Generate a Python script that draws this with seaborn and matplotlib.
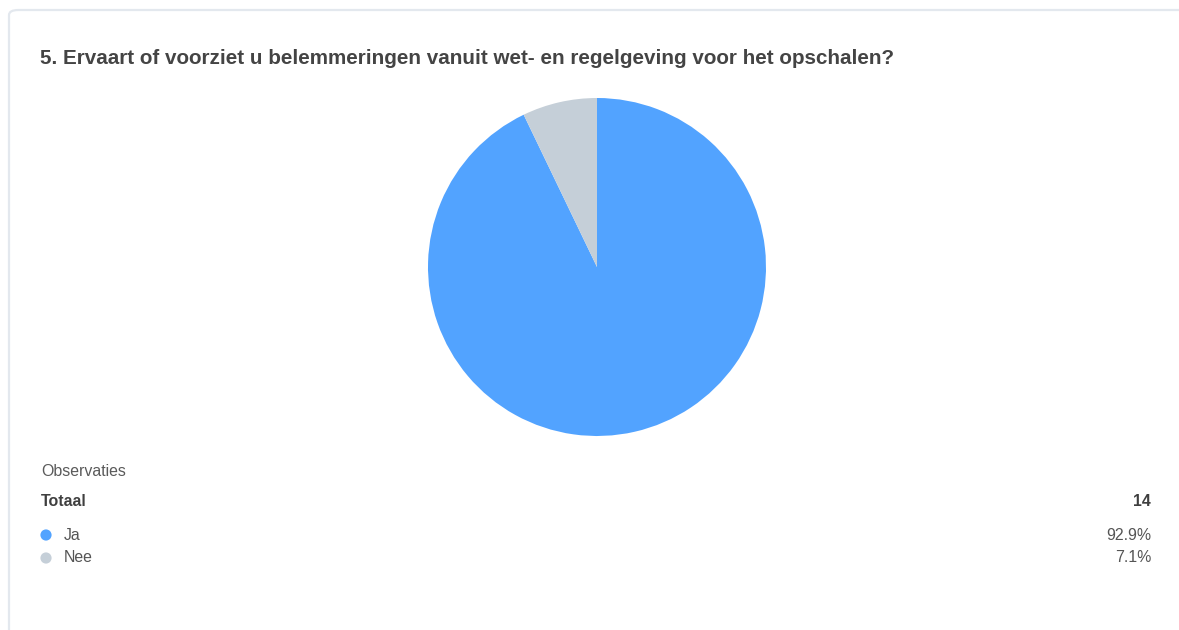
import matplotlib
matplotlib.use("Agg")
import matplotlib.pyplot as plt
import seaborn as sns
from matplotlib.patches import FancyBboxPatch

sns.set_theme(style="white")
plt.rcParams['font.family'] = ['Liberation Sans', 'DejaVu Sans']

title = "5. Ervaart of voorziet u belemmeringen vanuit wet- en regelgeving voor het opschalen?"
categories = ["Ja", "Nee"]
counts = [13, 1]
percent_labels = ["92.9%", "7.1%"]
total = 14
colors = ["#52A3FF", "#C5CFD8"]

W, H = 1179, 630
fig = plt.figure(figsize=(W / 100, H / 100), dpi=100)
fig.patch.set_facecolor("white")

def fx(x):
    return x / W

def fy(y):
    return 1 - y / H

# card border
card = FancyBboxPatch((fx(9), fy(660)), fx(1200), 650 / H,
                      boxstyle="round,pad=0,rounding_size=0.008",
                      transform=fig.transFigure, facecolor="none",
                      edgecolor="#E3E8EE", linewidth=1.6, zorder=-5)
fig.patches.append(card)

# pie
cx, cy, r = 597, 267, 169
ax = fig.add_axes([fx(cx - r), fy(cy + r), fx(2 * r), 2 * r / H])
ax.pie(counts, colors=colors, startangle=90, counterclock=False,
       radius=1.0, wedgeprops=dict(linewidth=0))
ax.set_xlim(-1, 1)
ax.set_ylim(-1, 1)
ax.set_aspect("equal")
ax.axis("off")

# title
fig.text(fx(40), fy(58), title, fontsize=14.85, fontweight="bold",
         color="#444444", va="center", ha="left")

# legend / table
fs = 11.4
fig.text(fx(41), fy(472), "Observaties", fontsize=fs, color="#5a5a5a",
         va="center", ha="left")
fig.text(fx(41), fy(501), "Totaal", fontsize=fs, fontweight="bold",
         color="#3f3f3f", va="center", ha="left")
fig.text(fx(1151), fy(501), str(total), fontsize=fs, fontweight="bold",
         color="#3f3f3f", va="center", ha="right")

row_y = [535, 558]
for cat, pl, yy in zip(categories, percent_labels, row_y):
    fig.text(fx(64), fy(yy), cat, fontsize=fs, color="#555555",
             va="center", ha="left")
    fig.text(fx(1151), fy(yy), pl, fontsize=fs, color="#555555",
             va="center", ha="right")

dot_ax = fig.add_axes([0, 0, 1, 1], facecolor="none")
dot_ax.set_xlim(0, W)
dot_ax.set_ylim(H, 0)
dot_ax.axis("off")
dot_ax.scatter([46] * len(categories), row_y, s=65, c=colors, linewidths=0)

fig.savefig("out.png", dpi=100, facecolor="white")
